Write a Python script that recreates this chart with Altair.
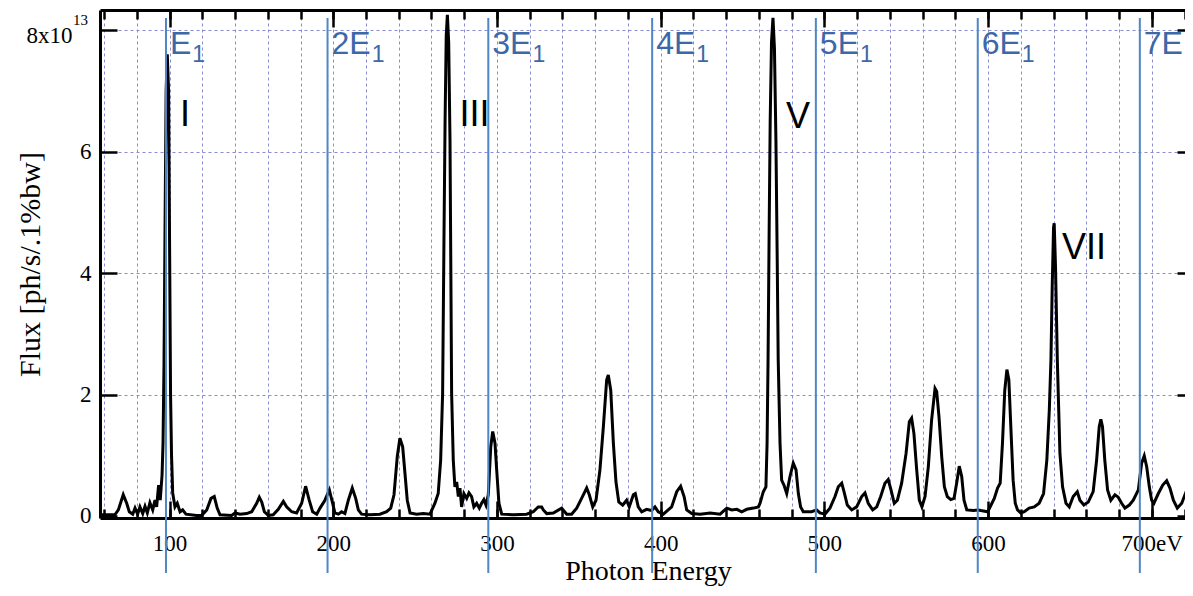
import altair as alt
import pandas as pd

# ---------------- data ----------------
energy = [
    57.5, 66.6, 68.7, 71.7, 73.8, 75.4, 77.5, 78.9, 80.5, 81.9, 83.6, 85.0, 86.4, 88.0, 89.7,
    91.1, 92.1, 93.3, 94.3, 95.4, 96.0, 96.6, 97.3, 97.9, 98.6, 99.4, 100.0, 100.6, 101.2, 101.9,
    103.3, 104.7, 106.4, 108.0, 110.0, 116.5, 119.6, 122.7, 125.3, 127.3, 129.1, 130.8, 137.9,
    140.0, 143.0, 147.1, 150.2, 153.2, 154.8, 156.3, 157.9, 160.3, 163.3, 166.4, 169.5, 171.5,
    174.6, 177.6, 180.7, 183.1, 185.3, 187.4, 189.9,
    191.9, 194.9, 197.6, 199.6, 201.0, 203.1, 205.1, 207.1, 209.2, 211.6, 213.7, 215.3, 217.3,
    222.4, 228.5, 232.6, 235.1, 237.1, 239.1, 240.7, 242.4, 243.8, 245.2, 246.9, 250.9, 255.0,
    259.1, 262.1, 264.1, 265.6, 266.8, 267.6, 268.3, 269.0, 269.7, 270.5, 271.3, 272.3, 273.3,
    274.3, 275.4, 276.4, 277.4, 278.4, 279.8, 281.5, 282.9, 284.5, 285.9, 287.6, 289.2, 290.6,
    292.0, 293.3, 294.7, 296.2, 297.4, 298.8, 299.8, 301.2, 302.9, 310.0, 318.1, 322.2, 325.2,
    327.3,
    328.3, 330.4, 334.4, 339.5, 342.6, 345.6, 348.7, 351.7, 354.8, 356.4, 358.5, 360.5, 362.9,
    365.0, 367.0, 368.0, 369.5, 371.1, 372.7, 374.4, 376.8, 379.2, 380.8, 383.3, 384.5, 386.3,
    388.4, 391.4, 394.5, 396.5, 398.5, 401.6, 406.7, 409.8, 412.2, 414.3, 415.9, 419.0, 424.1,
    430.2, 436.3, 440.4, 443.4, 446.5, 449.5, 452.6, 456.7, 459.7,
    460.7, 462.7, 464.3, 465.0, 465.6, 466.3, 466.9, 467.7, 468.6, 469.5, 470.4, 471.2, 471.8,
    472.9, 473.9, 475.3, 477.0, 479.0, 481.0, 482.7, 484.1, 485.5, 487.1, 492.2, 495.3, 497.3,
    500.4, 503.4, 506.5, 508.5, 510.6, 512.0, 514.0, 516.7, 519.7, 522.8, 524.8, 526.8, 529.5,
    532.0, 534.4, 537.0, 539.0, 540.7, 542.7, 544.6, 547.2, 549.9, 551.9, 553.3, 554.7, 556.4,
    558.0, 559.6, 561.5, 563.5, 565.5, 567.6, 568.6, 570.0, 571.7, 573.3, 575.1, 577.2, 579.2,
    580.8, 582.4, 583.9, 585.3, 587.0, 591.0, 594.0,
    595.6, 599.7, 600.7, 603.8, 605.8, 607.4, 608.8, 610.2, 611.5, 612.7, 613.9, 615.3, 616.6,
    618.0, 620.0, 622.1, 625.1, 628.2, 631.2, 633.9, 635.9, 637.4, 638.4, 639.2, 640.0, 640.4,
    641.2, 642.3, 643.9, 645.5, 647.6, 649.6, 652.0, 654.5, 656.1, 658.5, 661.2, 664.2, 666.3,
    667.9, 668.9, 669.9, 671.3, 673.0, 675.0, 677.5, 679.5, 681.6, 683.6, 686.3, 688.7, 691.8,
    693.8, 695.4, 696.9, 698.5, 699.9, 701.3, 704.0, 706.7, 709.1, 711.1, 713.2, 715.6, 718.3,
    721.4, 724.4, 727.0,
]
flux = [
    0.02, 0.02, 0.10, 0.35, 0.21, 0.07, 0.03, 0.13, 0.03, 0.15, 0.04, 0.16, 0.05, 0.22, 0.10,
    0.26, 0.15, 0.51, 0.26, 0.67, 1.2, 2.5, 5.0, 7.0, 7.6, 7.0, 4.5, 2.0, 1.0, 0.38,
    0.15, 0.21, 0.07, 0.10, 0.03, 0.01, 0.01, 0.10, 0.29, 0.32, 0.13, 0.02, 0.01,
    0.05, 0.03, 0.04, 0.07, 0.21, 0.31, 0.23, 0.07, 0.01, 0.02, 0.11, 0.24, 0.15,
    0.07, 0.05, 0.21, 0.49, 0.26, 0.07, 0.03,
    0.13, 0.26, 0.43, 0.21, 0.05, 0.03, 0.07, 0.04, 0.26, 0.46, 0.29, 0.10, 0.03,
    0.02, 0.03, 0.07, 0.13, 0.35, 0.98, 1.28, 1.14, 0.70, 0.26, 0.05, 0.03, 0.04,
    0.03, 0.21, 0.37, 0.92, 2.02, 4.5, 6.5, 7.9, 8.25, 7.8, 6.2, 2.02, 0.92,
    0.48, 0.56, 0.32, 0.46, 0.15, 0.37, 0.29, 0.38, 0.32, 0.15, 0.21, 0.13, 0.21,
    0.27, 0.18, 0.35, 1.14, 1.39, 1.20, 0.77, 0.21, 0.03, 0.02, 0.03, 0.07, 0.15,
    0.15,
    0.10, 0.04, 0.05, 0.13, 0.03, 0.03, 0.13, 0.29, 0.46, 0.35, 0.15, 0.26, 0.76,
    1.47, 2.24, 2.32, 2.07, 1.2, 0.56, 0.23, 0.18, 0.26, 0.15, 0.35, 0.37, 0.15,
    0.07, 0.11, 0.09, 0.15, 0.07, 0.03, 0.15, 0.40, 0.49, 0.32, 0.10, 0.04, 0.03,
    0.05, 0.03, 0.13, 0.10, 0.11, 0.07, 0.11, 0.13, 0.15,
    0.21, 0.40, 0.48, 1.2, 2.57, 4.8, 6.5, 7.8, 8.2, 7.7, 6.2, 4.2, 2.57,
    1.2, 0.59, 0.51, 0.37, 0.65, 0.87, 0.76, 0.37, 0.15, 0.07, 0.07, 0.10, 0.05,
    0.03, 0.13, 0.32, 0.48, 0.54, 0.40, 0.18, 0.10, 0.15, 0.32, 0.38, 0.21, 0.10,
    0.15, 0.32, 0.54, 0.60, 0.43, 0.21, 0.26, 0.54, 1.03, 1.55, 1.61, 1.36, 0.76,
    0.26, 0.15, 0.32, 0.81, 1.58, 2.10, 2.05, 1.64, 0.97, 0.48, 0.32, 0.27, 0.29,
    0.54, 0.82, 0.65, 0.26, 0.10, 0.09, 0.10,
    0.09, 0.07, 0.12, 0.29, 0.46, 0.54, 1.2, 2.07, 2.41, 2.24, 1.47, 0.59, 0.21,
    0.10, 0.05, 0.07, 0.13, 0.15, 0.21, 0.37, 0.92, 1.74, 2.57, 3.8, 4.75, 4.82,
    4.1, 2.57, 1.03, 0.48, 0.21, 0.15, 0.32, 0.40, 0.26, 0.18, 0.23, 0.40, 0.92,
    1.47, 1.59, 1.47, 0.92, 0.43, 0.26, 0.35, 0.31, 0.21, 0.13, 0.18, 0.26, 0.43,
    0.87, 0.99, 0.81, 0.48, 0.26, 0.21, 0.37, 0.51, 0.58, 0.46, 0.26, 0.13, 0.21,
    0.43, 0.70, 0.78,
]

harmonic_pos = [97.8, 196.5, 294.7, 394.8, 494.8, 593.7, 692.7]
harmonic_names = ["E", "2E", "3E", "4E", "5E", "6E", "7E"]
peak_names = ["I", "III", "V", "VII"]
peak_x = [109.4, 286.3, 483.9, 658.6]
peak_y = [6.42, 6.42, 6.39, 4.23]

x_major = [100, 200, 300, 400, 500, 600, 700]
x_minor = list(range(60, 721, 20))
y_major = [0, 2, 4, 6, 8]
y_grid = [2, 4, 6, 8]

# ---------------- layout constants ----------------
W, H = 1085, 508
X_DOMAIN = [57.5, 57.5 + W / 1.637]
Y_DOMAIN = [-0.033, 8.33]
PX_PER_EV = W / (X_DOMAIN[1] - X_DOMAIN[0])
PX_PER_UNIT = H / (Y_DOMAIN[1] - Y_DOMAIN[0])

SERIF = "Liberation Serif"
SANS = "Liberation Sans"
LINE_BLUE = "#4f86c6"
TEXT_BLUE = "#3d68a8"
GRID = "#8c8cd2"

xs = alt.Scale(domain=X_DOMAIN, nice=False, zero=False)
ys = alt.Scale(domain=Y_DOMAIN, nice=False, zero=False)

curve = pd.DataFrame({"energy": energy, "flux": flux})


def hidden_layer(x_axis, y_axis):
    return alt.Chart(curve).mark_line(opacity=0).encode(
        x=alt.X("energy:Q", scale=xs, axis=x_axis),
        y=alt.Y("flux:Q", scale=ys, axis=y_axis),
    )


def tick_axis(orient, values, size):
    return alt.Axis(orient=orient, values=values, tickSize=size, offset=-size,
                    tickWidth=2.5, tickColor="black", labels=False, domain=False,
                    grid=False, title=None)


# grid + top frame line
grid_layer = hidden_layer(
    alt.Axis(orient="top", values=x_minor, grid=True, gridColor=GRID, gridDash=[3, 3],
             gridWidth=1, ticks=False, labels=False, domain=True, domainColor="black",
             domainWidth=3, title=None),
    alt.Axis(orient="left", values=y_grid, grid=True, gridColor=GRID, gridDash=[3, 3],
             gridWidth=1, ticks=False, labels=False, domain=False, title=None),
)

tick_layers = [
    hidden_layer(tick_axis("bottom", x_minor, 9), None),
    hidden_layer(tick_axis("bottom", x_major, 17), None),
    hidden_layer(tick_axis("top", x_minor, 9), None),
    hidden_layer(tick_axis("top", x_major, 17), None),
    hidden_layer(None, tick_axis("left", y_major, 17)),
    hidden_layer(None, tick_axis("right", y_major, 8)),
]

line_layer = alt.Chart(curve).mark_line(color="black", strokeWidth=3, clip=True).encode(
    x=alt.X("energy:Q", scale=xs, axis=alt.Axis(
        orient="bottom", values=x_major,
        labelExpr="datum.value == 700 ? '700eV' : datum.label",
        labelFont=SERIF, labelFontSize=23, labelColor="black", labelPadding=14,
        ticks=False, domain=True, domainColor="black", domainWidth=3, grid=False,
        title="Photon Energy", titleFont=SERIF, titleFontSize=28, titleFontWeight="normal",
        titleColor="black", titleX=548, titleY=61, titleBaseline="alphabetic")),
    y=alt.Y("flux:Q", scale=ys, axis=alt.Axis(
        orient="left", values=y_major, labelExpr="datum.value == 8 ? '' : datum.label",
        labelFont=SERIF, labelFontSize=23, labelColor="black", labelPadding=9,
        ticks=False, domain=True, domainColor="black", domainWidth=3, grid=False,
        title="Flux [ph/s/.1%bw]", titleFont=SERIF, titleFontSize=30,
        titleFontWeight="normal", titleColor="black", titleAngle=270,
        titleX=-70, titleY=254, titleBaseline="middle", titleAlign="center")),
)

# top tick label "8x10" with superscript 13, anchored just left of the axis
top_label = pd.DataFrame({"x": [X_DOMAIN[0] - 27.5 / PX_PER_EV], "y": [8 - 5.5 / PX_PER_UNIT],
                          "t": ["8x10"]})
sup_label = pd.DataFrame({"x": [X_DOMAIN[0] - 19.5 / PX_PER_EV], "y": [8 + 5 / PX_PER_UNIT],
                          "t": ["13"]})
top_text = alt.Chart(top_label).mark_text(font=SERIF, fontSize=23, align="right",
                                          baseline="middle", color="black").encode(
    x=alt.X("x:Q", scale=xs, axis=None), y=alt.Y("y:Q", scale=ys, axis=None), text="t:N")
sup_text = alt.Chart(sup_label).mark_text(font=SERIF, fontSize=15, align="center",
                                          baseline="alphabetic", color="black").encode(
    x=alt.X("x:Q", scale=xs, axis=None), y=alt.Y("y:Q", scale=ys, axis=None), text="t:N")

# harmonic lines
rules = pd.DataFrame({"pos": harmonic_pos,
                      "top": [8.2] * len(harmonic_pos),
                      "bottom": [-0.94] * len(harmonic_pos)})
rule_layer = alt.Chart(rules).mark_rule(color=LINE_BLUE, strokeWidth=2).encode(
    x=alt.X("pos:Q", scale=xs, axis=None),
    y=alt.Y("top:Q", scale=ys, axis=None),
    y2="bottom:Q",
)

main_w = [21.3 if n == "E" else 39.1 for n in harmonic_names]
hlabels = pd.DataFrame({
    "pos": harmonic_pos,
    "name": harmonic_names,
    "y": [7.6] * len(harmonic_pos),
    "subx": [p + (5 + w) / PX_PER_EV for p, w in zip(harmonic_pos, main_w)],
    "suby": [7.47] * len(harmonic_pos),
    "sub": ["1"] * len(harmonic_pos),
})
hname_layer = alt.Chart(hlabels).mark_text(font=SANS, fontSize=32, color=TEXT_BLUE,
                                           align="left", baseline="alphabetic", dx=4).encode(
    x=alt.X("pos:Q", scale=xs, axis=None), y=alt.Y("y:Q", scale=ys, axis=None), text="name:N")
hsub_layer = alt.Chart(hlabels).mark_text(font=SANS, fontSize=23, color=TEXT_BLUE,
                                          align="left", baseline="alphabetic").encode(
    x=alt.X("subx:Q", scale=xs, axis=None), y=alt.Y("suby:Q", scale=ys, axis=None), text="sub:N")

peaks = pd.DataFrame({"x": peak_x, "y": peak_y, "t": peak_names})
peak_layer = alt.Chart(peaks).mark_text(font=SANS, fontSize=36, color="black",
                                        align="center", baseline="alphabetic").encode(
    x=alt.X("x:Q", scale=xs, axis=None), y=alt.Y("y:Q", scale=ys, axis=None), text="t:N")

chart = alt.layer(
    grid_layer, *tick_layers, line_layer, top_text, sup_text,
    rule_layer, hname_layer, hsub_layer, peak_layer,
).resolve_axis(x="independent", y="independent").properties(
    width=W, height=H,
    padding={"left": 92, "top": 2, "right": 0, "bottom": 70},
    autosize=alt.AutoSizeParams(type="none"),
    background="white",
).configure_view(stroke=None)

chart.save("out.html", embed_options={"renderer": "svg", "actions": False})
